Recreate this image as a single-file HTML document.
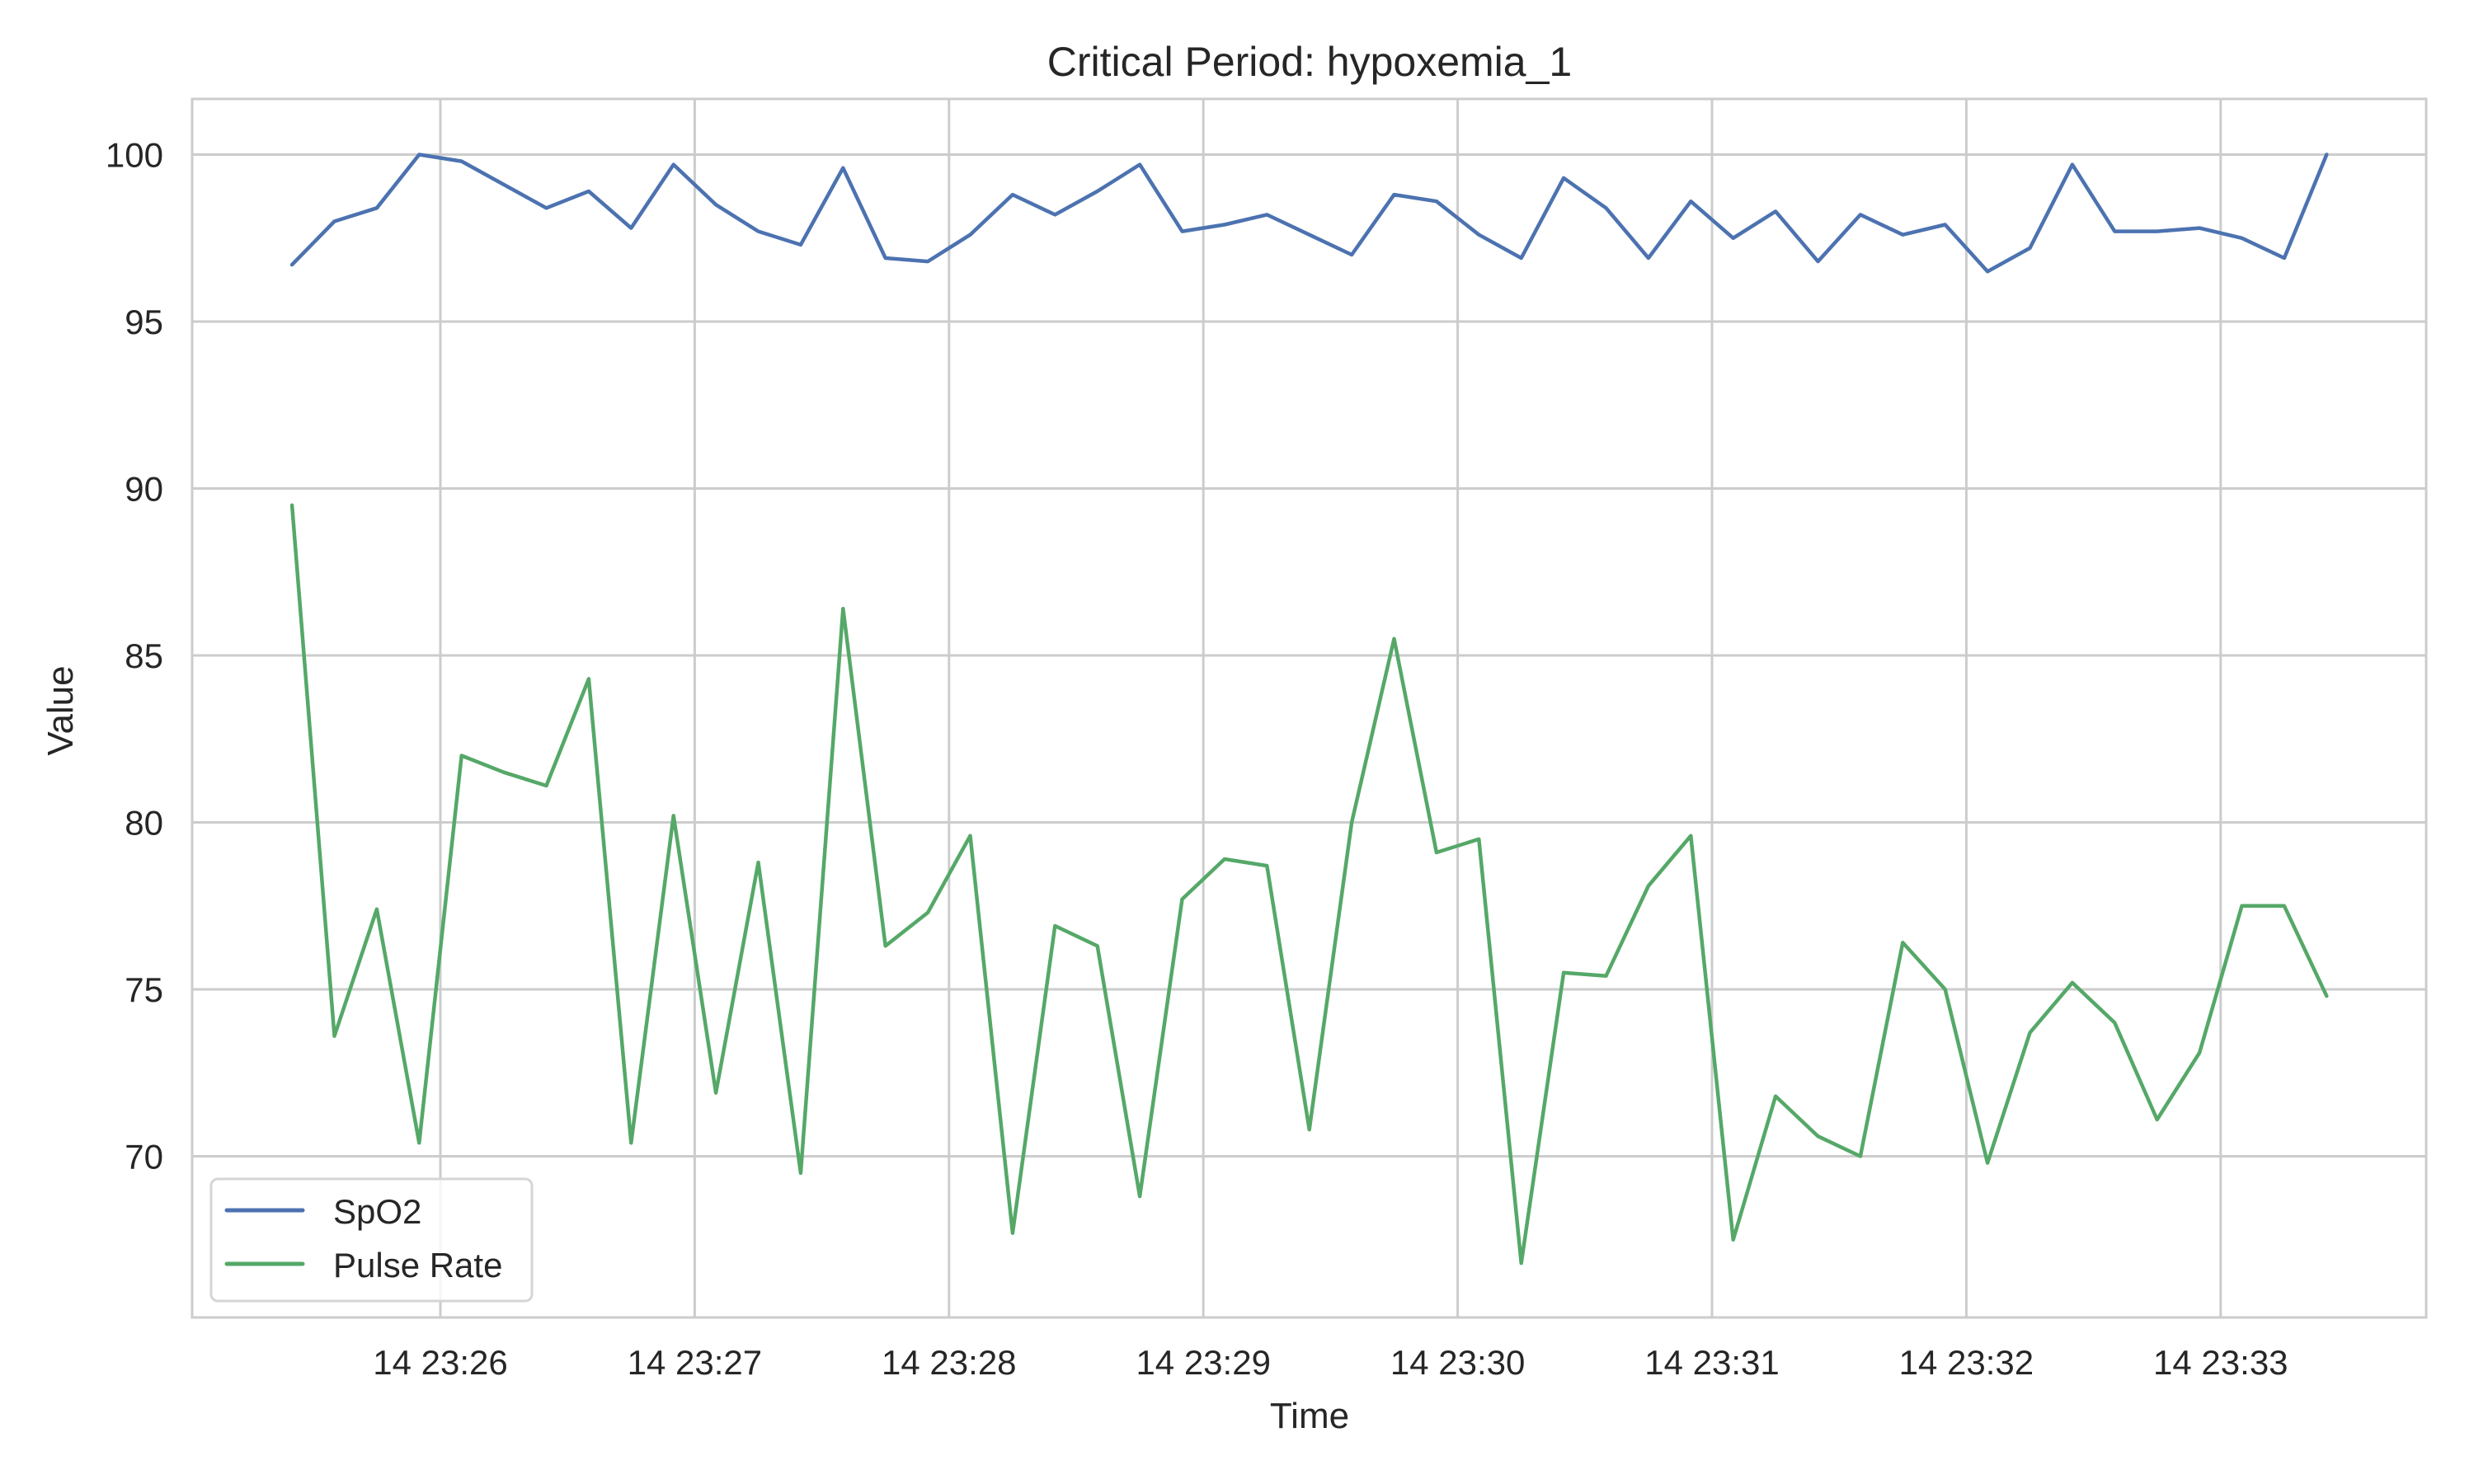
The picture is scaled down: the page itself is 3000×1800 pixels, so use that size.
<!DOCTYPE html>
<html><head><meta charset="utf-8"><style>
html,body{margin:0;padding:0;background:#fff;}
svg{display:block;font-family:"Liberation Sans",Arial,sans-serif;}
</style></head><body>
<svg id="chart" width="3000" height="1800" viewBox="0 0 3000 1800" xmlns="http://www.w3.org/2000/svg">
<rect width="3000" height="1800" fill="#fff"/>
<text x="1588" y="92" font-size="50" text-anchor="middle" fill="#262626">Critical Period: hypoxemia_1</text>
<text x="1588" y="1732" font-size="44" text-anchor="middle" fill="#262626">Time</text>
<text transform="translate(88,862) rotate(-90)" font-size="44" text-anchor="middle" fill="#262626">Value</text>
<g id="grid"></g><g id="series"></g><g id="ticks"></g>
<rect x="233" y="120" width="2709" height="1478" fill="none" stroke="#cccccc" stroke-width="3"/>
<g>
<rect x="256" y="1430" width="389" height="148" rx="8" fill="#fff" fill-opacity="0.8" stroke="#d5d5d5" stroke-width="3"/>
<g><line x1="275" y1="1468" x2="367" y2="1468" stroke="#4c72b0" stroke-width="5" stroke-linecap="round"/><text x="404" y="1484" font-size="42" fill="#262626">SpO2</text></g>
<g><line x1="275" y1="1533" x2="367" y2="1533" stroke="#55a868" stroke-width="5" stroke-linecap="round"/><text x="404" y="1549" font-size="42" fill="#262626">Pulse Rate</text></g>
</g>
</svg>
<script>
const spo2 = [96.7,98.0,98.4,100.0,99.8,99.1,98.4,98.9,97.8,99.7,98.5,97.7,97.3,99.6,96.9,96.8,97.6,98.8,98.2,98.9,99.7,97.7,97.9,98.2,97.6,97.0,98.8,98.6,97.6,96.9,99.3,98.4,96.9,98.6,97.5,98.3,96.8,98.2,97.6,97.9,96.5,97.2,99.7,97.7,97.7,97.8,97.5,96.9,100.0];
const pulse = [89.5,73.6,77.4,70.4,82.0,81.5,81.1,84.3,70.4,80.2,71.9,78.8,69.5,86.4,76.3,77.3,79.6,67.7,76.9,76.3,68.8,77.7,78.9,78.7,70.8,80.0,85.5,79.1,79.5,66.8,75.5,75.4,78.1,79.6,67.5,71.8,70.6,70.0,76.4,75.0,69.8,73.7,75.2,74.0,71.1,73.1,77.5,77.5,74.8];
const startSec = -35; // seconds relative to 23:26:00
const stepSec = 10;
const yTicks = [70,75,80,85,90,95,100];
const xTickMinutes = [0,1,2,3,4,5,6,7];
const xTickLabels = ["14 23:26","14 23:27","14 23:28","14 23:29","14 23:30","14 23:31","14 23:32","14 23:33"];

const NS="http://www.w3.org/2000/svg";
function X(sec){return 534 + sec*308.4/60;}
function Y(v){return 187.5 + (100-v)*40.5;}
const grid=document.getElementById('grid'), ticks=document.getElementById('ticks'), ser=document.getElementById('series');
function mk(tag,attrs,parent){const e=document.createElementNS(NS,tag);for(const k in attrs)e.setAttribute(k,attrs[k]);parent.appendChild(e);return e;}
yTicks.forEach(v=>{
  const l=mk('line',{x1:233,x2:2942,y1:Y(v),y2:Y(v),stroke:'#cccccc','stroke-width':3},grid);
  
  
  const t=mk('text',{x:198,y:Y(v)+15,'font-size':42,'text-anchor':'end',fill:'#262626'},ticks);
  t.textContent=v;
  
  
});
xTickMinutes.forEach((m,i)=>{
  const x=X(m*60);
  const l=mk('line',{x1:x,x2:x,y1:120,y2:1598,stroke:'#cccccc','stroke-width':3},grid);
  
  
  const t=mk('text',{x:x,y:1667,'font-size':42,'text-anchor':'middle',fill:'#262626'},ticks);
  t.textContent=xTickLabels[i];
  
  
});
function pts(arr){return arr.map((v,i)=>X(startSec+i*stepSec).toFixed(1)+','+Y(v).toFixed(1)).join(' ');}
const p1=mk('polyline',{points:pts(spo2),fill:'none',stroke:'#4c72b0','stroke-width':4.5,'stroke-linejoin':'round','stroke-linecap':'round'},ser);


const p2=mk('polyline',{points:pts(pulse),fill:'none',stroke:'#55a868','stroke-width':4.5,'stroke-linejoin':'round','stroke-linecap':'round'},ser);


</script>
</body></html>
